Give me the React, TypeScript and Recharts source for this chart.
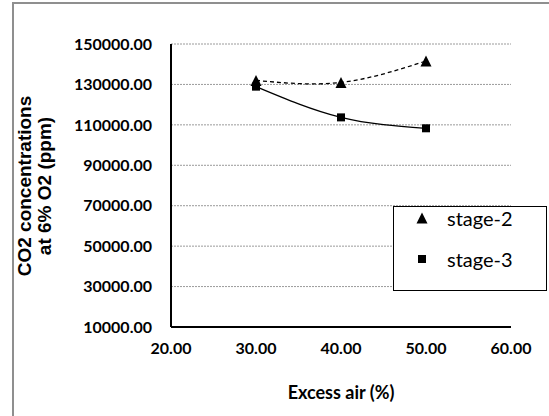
import React from "react";
import { LineChart, Line, XAxis, YAxis, CartesianGrid } from "recharts";

const excessAir = [30, 40, 50];
const stage2 = [132000, 131000, 141600];
const stage3 = [128900, 113700, 108300];
const seriesNames = ["stage-2", "stage-3"];
const xTicks = [20, 30, 40, 50, 60];
const yTicks = [10000, 30000, 50000, 70000, 90000, 110000, 130000, 150000];
const xTitle = "Excess air (%)";
const yTitleLines = ["CO2 concentrations", "at 6% O2 (ppm)"];

const data = excessAir.map((x, i) => ({ x, s2: stage2[i], s3: stage3[i] }));

const TICK_FONT = "Lato, 'Open Sans', sans-serif";

const Triangle = (props: any) => {
  const { cx, cy } = props;
  if (cx == null || cy == null) return null;
  const w = 11, h = 11;
  return (
    <path
      d={`M${cx},${cy - h / 2} L${cx + w / 2},${cy + h / 2} L${cx - w / 2},${cy + h / 2} Z`}
      fill="#000"
    />
  );
};

const Square = (props: any) => {
  const { cx, cy } = props;
  if (cx == null || cy == null) return null;
  const s = 8;
  return <rect x={cx - s / 2} y={cy - s / 2} width={s} height={s} fill="#000" />;
};

const YTitle = () => (
  <text
    transform="translate(0,186) rotate(-90)"
    textAnchor="middle"
    fontFamily="'Liberation Sans', Arial, sans-serif"
    fontWeight="bold"
    fontSize={19}
    fill="#000"
  >
    <tspan x={0} y={31}>{yTitleLines[0]}</tspan>
    <tspan x={0} y={51}>{yTitleLines[1]}</tspan>
  </text>
);

const XTitle = () => (
  <text
    x={341}
    y={399}
    textAnchor="middle"
    fontFamily={TICK_FONT}
    fontWeight="bold"
    fontSize={18}
    fill="#000"
  >
    {xTitle}
  </text>
);

export default function App() {
  return (
    <div
      style={{
        position: "absolute",
        left: 0,
        top: 0,
        width: 549,
        height: 416,
        overflow: "hidden",
        background: "#fff",
      }}
    >
      <div
        style={{
          position: "absolute",
          left: 12,
          top: 2,
          width: 600,
          height: 500,
          border: "2px solid #8f8f8f",
          boxSizing: "border-box",
        }}
      />
      <div style={{ position: "absolute", left: 0, top: 0 }}>
        <LineChart
          width={549}
          height={416}
          data={data}
          margin={{ top: 44, right: 38, left: 0, bottom: 0 }}
        >
          <CartesianGrid
            vertical={false}
            stroke="#9a9a9a"
            strokeDasharray="2 1"
            strokeWidth={1}
          />
          <XAxis
            dataKey="x"
            type="number"
            domain={[20, 60]}
            ticks={xTicks}
            height={89}
            tickLine={false}
            tickSize={0}
            tickMargin={16}
            axisLine={{ stroke: "#000", strokeWidth: 2 }}
            tickFormatter={(v: number) => v.toFixed(2)}
            tick={{ fontFamily: TICK_FONT, fontWeight: "bold", fontSize: 16, fill: "#000" }}
            interval={0}
          />
          <YAxis
            type="number"
            domain={[10000, 150000]}
            ticks={yTicks}
            width={171}
            tickLine={false}
            tickSize={0}
            tickMargin={19}
            axisLine={{ stroke: "#000", strokeWidth: 2 }}
            tickFormatter={(v: number) => v.toFixed(2)}
            tick={{ fontFamily: TICK_FONT, fontWeight: "bold", fontSize: 16, fill: "#000" }}
            interval={0}
          />
          <Line
            dataKey="s2"
            name={seriesNames[0]}
            type="natural"
            stroke="#000"
            strokeWidth={1.3}
            strokeDasharray="4 3"
            dot={<Triangle />}
            activeDot={false}
            isAnimationActive={false}
          />
          <Line
            dataKey="s3"
            name={seriesNames[1]}
            type="natural"
            stroke="#000"
            strokeWidth={1.3}
            dot={<Square />}
            activeDot={false}
            isAnimationActive={false}
          />
          <YTitle />
          <XTitle />
        </LineChart>
      </div>
      <div
        style={{
          position: "absolute",
          left: 393,
          top: 206,
          width: 154,
          height: 85,
          border: "1px solid #000",
          boxSizing: "border-box",
          background: "#fff",
          fontFamily: TICK_FONT,
          fontSize: 20,
          color: "#000",
        }}
      >
        {seriesNames.map((name, i) => (
          <div
            key={name}
            style={{
              position: "absolute",
              left: 0,
              top: i === 0 ? 0 : 41,
              height: 22,
              width: 152,
              display: "flex",
              alignItems: "center",
            }}
          >
            <svg width={53} height={22} style={{ display: "block" }}>
              {i === 0 ? (
                <Triangle cx={28} cy={11} />
              ) : (
                <Square cx={28} cy={11} />
              )}
            </svg>
            <span style={{ lineHeight: "22px" }}>{name}</span>
          </div>
        ))}
      </div>
    </div>
  );
}
